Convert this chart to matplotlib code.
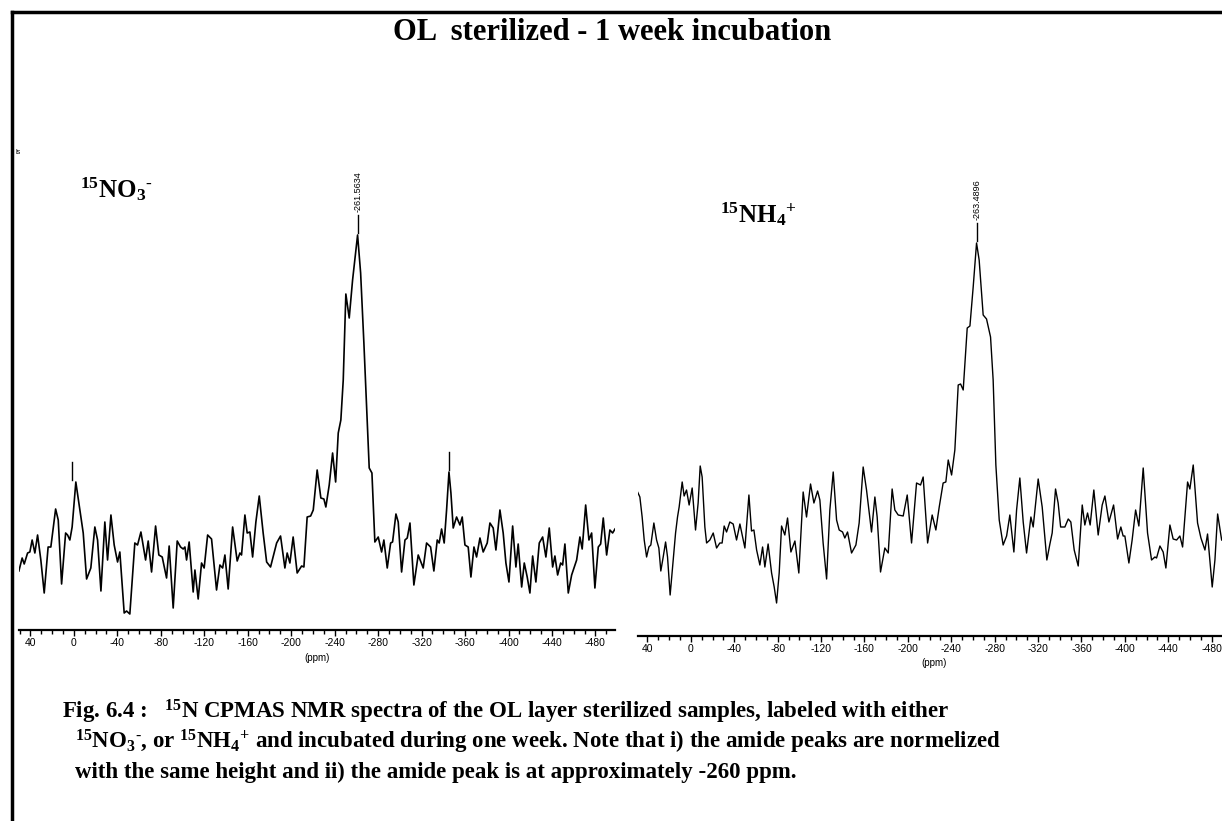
import matplotlib
matplotlib.use("Agg")
import matplotlib.pyplot as plt
from matplotlib.lines import Line2D
from matplotlib.ticker import FixedLocator, MultipleLocator

plt.rcParams["axes.unicode_minus"] = False
plt.rcParams["mathtext.fontset"] = "custom"
plt.rcParams["mathtext.rm"] = "Liberation Serif:bold"
plt.rcParams["mathtext.it"] = "Liberation Serif:bold"
plt.rcParams["mathtext.bf"] = "Liberation Serif:bold"

# 15NO3- spectrum (chemical shift ppm, intensity a.u.)
no3_ppm = [50.6, 47.6, 45.7, 42.6, 40.5, 38.4, 35.9, 33.4, 30.4, 27.3, 23.7, 21.2, 16.8, 14.4,
           11.3, 7.6, 5.8, 3.7, 1.6, -1.8, -5.5, -8.6, -11.7, -15.6, -19.3, -21.8, -24.9, -28.5,
           -31.0, -34.1, -37.1, -40.2, -42.3, -46.3, -48.5, -51.5, -56.1, -58.6, -61.7, -66.0,
           -68.4, -71.5, -75.2, -78.2, -81.3, -85.3, -87.7, -91.4, -95.1, -98.2, -100.6, -102.2,
           -103.7, -106.1, -109.8, -111.4, -114.4, -117.5, -119.9, -123.1, -126.7, -131.3, -134.4,
           -136.9, -139.0, -142.0, -146.1, -150.3, -152.8, -154.3, -157.4, -159.5, -162.0, -164.5,
           -167.5, -170.6, -174.2, -177.4, -181.0, -186.6, -190.2, -194.2, -196.3, -198.8, -201.8,
           -205.5, -209.6, -211.7, -214.7, -217.9, -220.3, -223.9, -227.3, -230.1, -231.9, -235.0,
           -238.1, -240.9, -243.3, -245.7, -247.9, -250.3, -253.4, -256.5, -258.9, -261.1, -263.9,
           -266.9, -269.4, -271.8, -274.3, -277.0, -280.1, -283.2, -285.3, -288.4, -291.5, -293.3,
           -296.4, -298.5, -301.6, -304.7, -306.8, -309.3, -312.9, -316.9, -321.5, -324.6, -328.3,
           -331.3, -334.4, -336.2, -338.4, -340.8, -343.0, -345.2, -347.0, -349.1, -352.2, -355.3,
           -357.4, -359.9, -362.9, -365.4, -368.2, -370.6, -373.7, -376.7, -380.4, -382.9, -385.9,
           -388.4, -392.1, -395.1, -397.6, -400.4, -403.8, -406.8, -408.9, -412.1, -414.5, -417.2,
           -419.7, -422.2, -425.2, -428.3, -431.4, -434.4, -437.5, -440.6, -442.7, -445.2, -448.0,
           -449.8, -451.9, -455.0, -458.1, -462.7, -465.7, -467.8, -471.0, -474.0, -476.5, -479.5,
           -482.6, -484.8, -487.2, -490.3, -493.3, -495.8, -498.0]
no3_int = [59, 72, 66, 77, 78, 90, 77, 95, 70, 37, 83, 83, 121, 110,
           46, 97, 95, 90, 103, 148, 120, 97, 51, 62, 103, 90, 39, 108,
           70, 115, 85, 68, 78, 17, 19, 16, 87, 85, 98, 70,
           89, 58, 104, 75, 73, 52, 84, 22, 89, 83, 81, 83,
           70, 88, 38, 60, 31, 67, 62, 95, 91, 40, 65,
           62, 75, 41, 103, 69, 77, 75, 115, 97, 98, 73,
           108, 134, 97, 68, 63, 87, 94, 62, 77, 67, 93,
           57, 64, 63, 113, 114, 120, 160, 132, 131, 123, 145,
           177, 148, 197, 210, 250, 336, 312, 350, 373, 395, 357,
           287, 223, 162, 157, 88, 93, 78, 90, 62, 87, 88,
           116, 108, 58, 90, 92, 107, 45, 75, 62, 87, 83,
           59, 90, 87, 101, 87, 120, 158, 137, 102, 113, 105,
           113, 85, 83, 53, 83, 73, 92, 78, 87, 107, 102,
           80, 120, 97, 67, 48, 104, 63, 86, 43, 67, 53,
           37, 74, 48, 87, 93, 73, 102, 63, 74, 55, 67,
           65, 86, 37, 55, 70, 93, 81, 125, 90, 97, 42,
           83, 86, 112, 75, 100, 97, 101]

# 15NH4+ spectrum
nh4_ppm = [49.1, 47.0, 44.9, 43.0, 40.8, 38.7, 36.9, 34.1, 31.6, 29.5, 27.7, 25.5, 23.3, 21.5,
           19.1, 16.3, 14.1, 12.3, 10.8, 8.0, 6.2, 4.0, 1.6, -1.2, -4.3, -6.7, -8.6, -10.4,
           -12.9, -14.5, -17.5, -20.6, -23.7, -26.7, -28.8, -30.7, -32.9, -35.9, -39.0, -42.1,
           -45.2, -47.3, -49.8, -53.5, -55.9, -58.1, -60.6, -63.6, -66.1, -68.2, -71.2, -74.4,
           -76.8, -79.0, -81.4, -83.6, -86.6, -89.1, -92.2, -95.9, -99.5, -103.5, -106.6, -110.3,
           -113.4, -116.8, -118.9, -121.9, -125.1, -128.1, -131.2, -134.3, -136.7, -139.8, -141.9,
           -144.4, -148.1, -152.1, -155.1, -158.8, -161.9, -166.5, -169.6, -171.7, -174.8, -178.8,
           -181.9, -185.5, -188.0, -191.1, -195.7, -199.4, -203.4, -208.0, -211.7, -214.1, -218.2,
           -222.4, -225.8, -228.9, -232.5, -235.0, -237.2, -240.3, -243.3, -246.4, -248.6, -251.0,
           -254.7, -257.2, -260.2, -263.3, -265.7, -269.4, -272.5, -276.2, -278.6, -281.1, -284.2,
           -287.8, -291.0, -294.0, -297.7, -300.2, -303.2, -306.3, -309.4, -313.4, -315.5, -320.1,
           -323.8, -328.1, -330.9, -333.0, -336.1, -338.5, -340.8, -344.7, -347.8, -350.2, -353.3,
           -357.0, -360.7, -363.1, -365.6, -368.0, -371.4, -375.4, -379.1, -381.6, -385.3, -389.6,
           -393.3, -396.3, -398.4, -400.0, -403.7, -406.7, -409.9, -412.9, -416.9, -420.9, -424.6,
           -427.7, -429.2, -432.3, -435.3, -437.8, -441.5, -444.5, -447.7, -450.7, -453.2, -457.8,
           -459.9, -463.0, -467.0, -470.1, -473.8, -476.2, -480.5, -483.0, -485.5, -489.2]
nh4_int = [144, 139, 119, 96, 79, 89, 91, 113, 96, 88, 65, 79, 94, 79,
           41, 76, 103, 119, 129, 154, 140, 146, 131, 148, 106, 133, 170, 159,
           109, 93, 96, 103, 88, 93, 93, 110, 104, 114, 112, 96,
           112, 101, 88, 141, 105, 106, 86, 71, 89, 69, 92, 63,
           49, 33, 63, 110, 101, 118, 84, 95, 63, 144, 119, 152,
           133, 145, 136, 93, 57, 126, 164, 116, 106, 104, 98,
           104, 83, 91, 113, 169, 146, 104, 139, 119, 64, 88,
           83, 147, 126, 121, 120, 141, 93, 153, 151, 159, 93,
           121, 106, 129, 153, 154, 176, 161, 186, 251, 252, 246,
           308, 310, 349, 393, 376, 321, 317, 299, 256, 171, 116,
           91, 100, 121, 84, 126, 158, 114, 83, 119, 109, 157,
           129, 76, 92, 103, 147, 133, 109, 109, 117, 114, 86,
           70, 131, 111, 123, 111, 146, 101, 131, 140, 114, 131,
           97, 109, 100, 100, 73, 96, 126, 110, 168, 103, 76,
           79, 78, 90, 84, 68, 111, 97, 96, 100, 89, 154,
           147, 171, 113, 98, 86, 102, 49, 76, 122, 96]

# picked peaks: (ppm, intensity, label)
no3_picks = [(-261.5634, 395, "-261.5634"), (1.6, 148, None), (-345.2, 158, None)]
nh4_picks = [(-263.4896, 393, "-263.4896")]

major_ticks = [40, 0, -40, -80, -120, -160, -200, -240, -280, -320, -360, -400, -440, -480]

fig = plt.figure(figsize=(12.22, 8.21), dpi=100)
W, H = 1222.0, 821.0


def setup(ax, xlim):
    ax.set_xlim(*xlim)
    ax.set_ylim(0, 430)
    for s in ["top", "left", "right"]:
        ax.spines[s].set_visible(False)
    ax.spines["bottom"].set_linewidth(1.6)
    ax.set_yticks([])
    ax.xaxis.set_major_locator(FixedLocator(major_ticks))
    ax.xaxis.set_minor_locator(MultipleLocator(10))
    ax.tick_params(axis="x", which="major", direction="out", length=4, width=1, labelsize=7.5, pad=2)
    ax.tick_params(axis="x", which="minor", direction="out", length=3, width=1)
    for lab in ax.get_xticklabels():
        lab.set_family("Liberation Sans")
    ax.set_xlabel("(ppm)", fontsize=7, family="Liberation Sans", labelpad=3)
    ax.patch.set_alpha(0)


def picks(ax, plist):
    for ppm, h, lab in plist:
        ax.plot([ppm, ppm], [h + 2, h + 20], color="black", lw=1, clip_on=False)
        if lab:
            ax.text(ppm, h + 23, lab, rotation=90, ha="center", va="bottom",
                    fontsize=6.5, family="Liberation Sans", clip_on=False)


ax1 = fig.add_axes([19 / W, 1 - 630 / H, 596 / W, 430 / H])
setup(ax1, (50.5, -498))
ax1.plot(no3_ppm, no3_int, color="black", lw=1.2)
picks(ax1, no3_picks)

ax2 = fig.add_axes([637.7 / W, 1 - 636 / H, 593.5 / W, 430 / H])
setup(ax2, (49, -498))
ax2.plot(nh4_ppm, nh4_int, color="black", lw=1)
picks(ax2, nh4_picks)

# frame around the page (left and top edges visible)
fig.add_artist(Line2D([12 / W, 12 / W], [0, 1 - 12 / H], color="black", lw=2.5, transform=fig.transFigure))
fig.add_artist(Line2D([12 / W, 1], [1 - 12 / H, 1 - 12 / H], color="black", lw=2.5, transform=fig.transFigure))

serif = "Liberation Serif"
hy = "\u2010"
fig.text(612 / W, 1 - 32 / H, "OL  sterilized - 1 week incubation", ha="center", va="center",
         fontsize=22, family=serif, weight="bold")
fig.text(16 / W, 1 - 152 / H, "ls", fontsize=5, family="Liberation Sans", va="center")
fig.text(80 / W, 1 - 189 / H, r"$^{15}$NO$_3$$^{" + hy + "}$", fontsize=18, family=serif, weight="bold", va="center")
fig.text(720 / W, 1 - 214 / H, r"$^{15}$NH$_4$$^{+}$", fontsize=18, family=serif, weight="bold", va="center")

cap = dict(fontsize=16.5, family=serif, weight="bold", va="center")
fig.text(62 / W, 1 - 712 / H, r"Fig. 6.4 :   $^{15}$N CPMAS NMR spectra of the OL layer sterilized samples, labeled with either", **cap)
fig.text(75 / W, 1 - 742 / H, r"$^{15}$NO$_3$$^{" + hy + "}$, or $^{15}$NH$_4$$^{+}$ and incubated during one week. Note that i) the amide peaks are normelized", **cap)
fig.text(75 / W, 1 - 772 / H, "with the same height and ii) the amide peak is at approximately -260 ppm.", **cap)

fig.savefig("out.png", dpi=100)
